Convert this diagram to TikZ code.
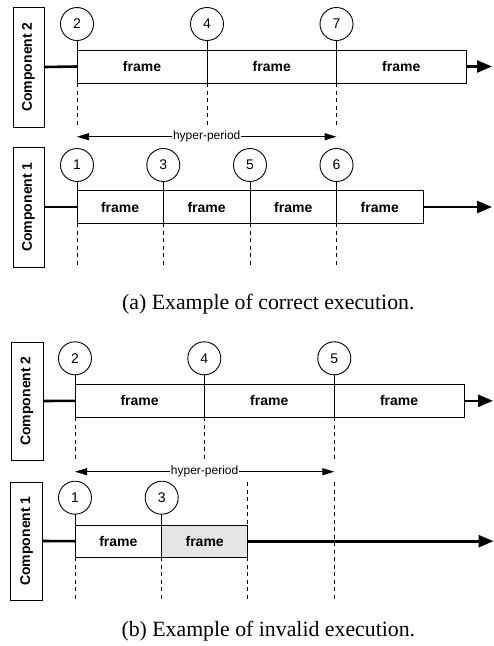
\documentclass[tikz,border=0pt]{standalone}
\usepackage{fontspec}
\setmainfont{Liberation Serif}
\setsansfont{Liberation Sans}
\usetikzlibrary{arrows.meta}

\tikzset{
  comp/.style={draw, line width=1pt, inner sep=0pt, outer sep=0pt,
    font=\sffamily\bfseries\fontsize{14}{16}\selectfont},
  tick/.style={draw, circle, line width=0.9pt, minimum size=33pt, inner sep=0pt,
    outer sep=0pt, font=\sffamily\fontsize{14}{16}\selectfont},
  frm/.style={draw, line width=1pt, minimum height=33pt, inner sep=0pt, outer sep=0pt,
    anchor=west, font=\sffamily\bfseries\fontsize{14}{16}\selectfont},
  late/.style={frm, fill=black!10},
  mark line/.style={line width=1pt},
  dsh/.style={line width=1pt, dash pattern=on 4pt off 3.5pt},
  thk/.style={line width=2.6pt},
  flow/.style={thk, -{Triangle[length=15pt,width=12pt]}},
  hp/.style={line width=1pt, {Triangle[length=12pt,width=7pt]}-{Triangle[length=12pt,width=7pt]}},
  hplabel/.style={fill=white, inner sep=0.6pt, font=\sffamily\fontsize{12}{14}\selectfont},
  captext/.style={font=\fontsize{21.8}{24}\selectfont, inner sep=0pt}
}

\begin{document}
\begin{tikzpicture}[x=1pt,y=-1pt]
\useasboundingbox (0,0) rectangle (494,646);

% ---------------- (a) correct execution ----------------
% Component 2
\node[comp, minimum width=31pt, minimum height=120pt] (c2a) at (28.5,67) {\rotatebox{90}{Component 2}};
\node[tick] (a2t1) at (77,24) {2};
\node[tick] (a2t2) at (207,24) {4};
\node[tick] (a2t3) at (336.5,24) {7};
\node[frm, minimum width=130pt]   (a2f1) at (77,66.5) {frame};
\node[frm, minimum width=129.5pt] (a2f2) at (207,66.5) {frame};
\node[frm, minimum width=129.5pt] (a2f3) at (336.5,66.5) {frame};
\coordinate (a2end) at (492,66.5);
\coordinate (a2d1) at (77,127);
\coordinate (a2d2) at (207,127);
\coordinate (a2d3) at (336.5,127);
\draw[thk] (c2a.east) -- (a2f1.west);
\draw[flow] (a2f3.east) -- (a2end);
\draw[mark line] (a2t1.south) -- (a2f1.south west);
\draw[mark line] (a2t2.south) -- (a2f2.south west);
\draw[mark line] (a2t3.south) -- (a2f3.south west);
\draw[dsh] (a2f1.south west) -- (a2d1);
\draw[dsh] (a2f2.south west) -- (a2d2);
\draw[dsh] (a2f3.south west) -- (a2d3);

% hyper-period
\coordinate (ahpL) at (77,136.7);
\coordinate (ahpR) at (336.5,136.7);
\draw[hp] (ahpL) -- node[hplabel] (ahplab) {hyper-period} (ahpR);

% Component 1
\node[comp, minimum width=31pt, minimum height=120pt] (c1a) at (28.5,207) {\rotatebox{90}{Component 1}};
\node[tick] (a1t1) at (77,165) {1};
\node[tick] (a1t2) at (163.3,165) {3};
\node[tick] (a1t3) at (250,165) {5};
\node[tick] (a1t4) at (336.5,165) {6};
\node[frm, minimum width=86.3pt, minimum height=32.6pt] (a1f1) at (77,207) {frame};
\node[frm, minimum width=86.7pt, minimum height=32.6pt] (a1f2) at (163.3,207) {frame};
\node[frm, minimum width=86.5pt, minimum height=32.6pt] (a1f3) at (250,207) {frame};
\node[frm, minimum width=86.5pt, minimum height=32.6pt] (a1f4) at (336.5,207) {frame};
\coordinate (a1end) at (492,207);
\coordinate (a1d1) at (77,267);
\coordinate (a1d2) at (163.3,267);
\coordinate (a1d3) at (250,267);
\coordinate (a1d4) at (336.5,267);
\draw[thk] (c1a.east) -- (a1f1.west);
\draw[flow] (a1f4.east) -- (a1end);
\draw[mark line] (a1t1.south) -- (a1f1.south west);
\draw[mark line] (a1t2.south) -- (a1f2.south west);
\draw[mark line] (a1t3.south) -- (a1f3.south west);
\draw[mark line] (a1t4.south) -- (a1f4.south west);
\draw[dsh] (a1f1.south west) -- (a1d1);
\draw[dsh] (a1f2.south west) -- (a1d2);
\draw[dsh] (a1f3.south west) -- (a1d3);
\draw[dsh] (a1f4.south west) -- (a1d4);

\node[captext] (capa) at (268.3,304) {(a) Example of correct execution.};

% ---------------- (b) invalid execution ----------------
% Component 2
\node[comp, minimum width=32pt, minimum height=118pt] (c2b) at (27,401) {\rotatebox{90}{Component 2}};
\node[tick] (b2t1) at (75,358.3) {2};
\node[tick] (b2t2) at (204.3,358.3) {4};
\node[tick] (b2t3) at (334.3,358.3) {5};
\node[frm, minimum width=129.3pt] (b2f1) at (75,400.8) {frame};
\node[frm, minimum width=130pt]   (b2f2) at (204.3,400.8) {frame};
\node[frm, minimum width=129.7pt] (b2f3) at (334.3,400.8) {frame};
\coordinate (b2end) at (493,400.8);
\coordinate (b2d1) at (75,460);
\coordinate (b2d2) at (204.3,460);
\coordinate (b2d3) at (334.3,460);
\draw[thk] (c2b.east) -- (b2f1.west);
\draw[flow] (b2f3.east) -- (b2end);
\draw[mark line] (b2t1.south) -- (b2f1.south west);
\draw[mark line] (b2t2.south) -- (b2f2.south west);
\draw[mark line] (b2t3.south) -- (b2f3.south west);
\draw[dsh] (b2f1.south west) -- (b2d1);
\draw[dsh] (b2f2.south west) -- (b2d2);
\draw[dsh] (b2f3.south west) -- (b2d3);

% hyper-period
\coordinate (bhpL) at (75,471.7);
\coordinate (bhpR) at (334.3,471.7);
\draw[hp] (bhpL) -- node[hplabel] (bhplab) {hyper-period} (bhpR);

% Component 1
\node[comp, minimum width=31.5pt, minimum height=118pt] (c1b) at (26.7,541) {\rotatebox{90}{Component 1}};
\node[tick] (b1t1) at (75,497.7) {1};
\node[tick] (b1t2) at (161.7,497.7) {3};
\node[frm, minimum width=86.7pt, minimum height=32.3pt] (b1f1) at (75,541.2) {frame};
\node[late, minimum width=86pt, minimum height=32.3pt] (b1f2) at (161.7,541.2) {frame};
\coordinate (b1end) at (493.5,541.2);
\coordinate (b1d1) at (75,600);
\coordinate (b1d2) at (161.7,600);
\coordinate (b1d3t) at (247.7,482);
\coordinate (b1d3) at (247.7,600);
\coordinate (b1d4t) at (334.3,482);
\coordinate (b1d4) at (334.3,600);
\draw[thk] (c1b.east) -- (b1f1.west);
\draw[flow] (b1f2.east) -- (b1end);
\draw[mark line] (b1t1.south) -- (b1f1.south west);
\draw[mark line] (b1t2.south) -- (b1f2.south west);
\draw[dsh] (b1f1.south west) -- (b1d1);
\draw[dsh] (b1f2.south west) -- (b1d2);
\draw[dsh] (b1d3t) -- (b1f2.north east);
\draw[dsh] (b1f2.south east) -- (b1d3);
\draw[dsh] (b1d4t) -- (b1d4);

\node[captext] (capb) at (268.3,630.7) {(b) Example of invalid execution.};
\end{tikzpicture}
\end{document}
